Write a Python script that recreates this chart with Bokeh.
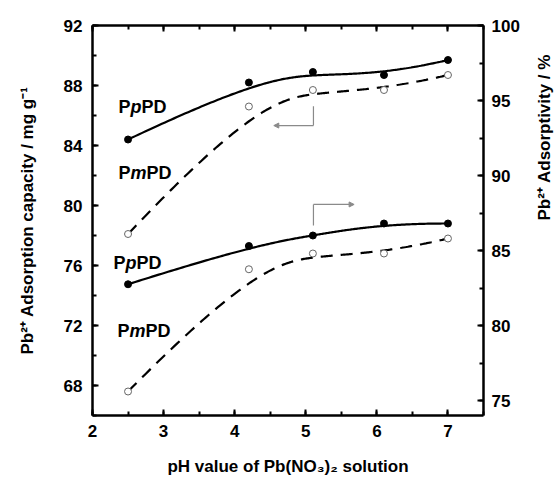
import math
import numpy as np
from bokeh.plotting import figure
from bokeh.layouts import row
from bokeh.core.properties import value
from bokeh.models import Range1d, LinearAxis, SingleIntervalTicker, Label, Arrow, NormalHead
from bokeh.embed import file_html
from bokeh.resources import INLINE

# ---- data ----
ph = [2.5, 4.2, 5.1, 6.1, 7.0]
capacity_ppd = [84.4, 88.2, 88.9, 88.7, 89.7]      # left axis, mg/g
capacity_pmpd = [78.1, 86.6, 87.7, 87.7, 88.7]     # left axis, mg/g
adsorptivity_ppd = [82.75, 85.3, 86.0, 86.8, 86.8]   # right axis, %
adsorptivity_pmpd = [75.6, 83.75, 84.8, 84.8, 85.8]  # right axis, %

x_ticks_interval = 1
left_ticks_interval = 4
right_ticks_interval = 5

FONT = "Liberation Sans"
RIGHT_LABEL = "Pb²⁺ Adsorptivity / %"

# check whether the axis label can be rotated directly
HAS_ORIENT = "axis_label_orientation" in LinearAxis().properties()

W_LEFT, H_TOP, H_BOTTOM = 92, 25, 60
W_RIGHT = 70 if HAS_ORIENT else 45
FW, FH = 391, 390
TOTAL_H = H_TOP + FH + H_BOTTOM


def bspline(xs, ys, n=200, k=3):
    """Clamped cubic B-spline using the data points as control points (smooth curve like Origin's B-spline)."""
    P = np.column_stack([xs, ys]).astype(float)
    m = len(P)
    knots = np.concatenate([np.zeros(k), np.linspace(0, 1, m - k + 1), np.ones(k)])
    t = np.linspace(0, 1 - 1e-9, n)

    def N(i, d):
        if d == 0:
            return np.where((knots[i] <= t) & (t < knots[i + 1]), 1.0, 0.0)
        out = np.zeros_like(t)
        den1 = knots[i + d] - knots[i]
        den2 = knots[i + d + 1] - knots[i + 1]
        if den1 > 0:
            out += (t - knots[i]) / den1 * N(i, d - 1)
        if den2 > 0:
            out += (knots[i + d + 1] - t) / den2 * N(i + 1, d - 1)
        return out

    B = np.array([N(i, k) for i in range(m)])
    C = B.T @ P
    return C[:, 0], C[:, 1]


p = figure(
    x_range=Range1d(2, 7.5),
    y_range=Range1d(66, 92),
    frame_width=FW,
    frame_height=FH,
    min_border_left=W_LEFT,
    min_border_right=W_RIGHT,
    min_border_top=H_TOP,
    min_border_bottom=H_BOTTOM,
    output_backend="svg",
    toolbar_location=None,
)
p.extra_y_ranges = {"right": Range1d(74, 100)}
p.outline_line_color = None
p.xgrid.visible = False
p.ygrid.visible = False
p.background_fill_color = "white"
p.border_fill_color = "white"


def style_axis(ax, interval, label_size="17px"):
    ax.ticker = SingleIntervalTicker(interval=interval, num_minor_ticks=2)
    ax.axis_line_width = 2.5
    ax.axis_line_color = "black"
    ax.major_tick_in = 6
    ax.major_tick_out = 0
    ax.minor_tick_in = 4
    ax.minor_tick_out = 0
    ax.major_tick_line_width = 2
    ax.minor_tick_line_width = 2
    ax.major_tick_line_color = "black"
    ax.minor_tick_line_color = "black"
    ax.major_label_text_font = FONT
    ax.major_label_text_font_style = "bold"
    ax.major_label_text_font_size = label_size
    ax.major_label_text_color = "black"
    ax.axis_label_text_font = FONT
    ax.axis_label_text_font_style = "bold"
    ax.axis_label_text_font_size = "17px"
    ax.axis_label_text_color = "black"


# bottom axis
xa = p.xaxis[0]
style_axis(xa, x_ticks_interval)
xa.axis_label = "pH value of Pb(NO₃)₂ solution"
xa.major_label_standoff = 9
xa.axis_label_standoff = 17

# left axis
ya = p.yaxis[0]
style_axis(ya, left_ticks_interval)
ya.axis_label = "Pb²⁺ Adsorption capacity / mg g⁻¹"
ya.major_label_standoff = 10
ya.axis_label_standoff = 24

# right axis
ra = LinearAxis(y_range_name="right")
style_axis(ra, right_ticks_interval)
ra.major_label_standoff = 8
if HAS_ORIENT:
    ra.axis_label = RIGHT_LABEL
    ra.axis_label_standoff = 22
    ra.axis_label_orientation = math.pi / 2
p.add_layout(ra, "right")

# top axis (ticks only, labels not drawn)
ta = LinearAxis()
style_axis(ta, x_ticks_interval, label_size="1px")
ta.major_label_text_color = None
ta.major_label_standoff = 0
p.add_layout(ta, "above")

# ---- curves ----
bx, by = bspline(ph, capacity_ppd)
p.line(bx, by, line_color="black", line_width=2.2)
bx, by = bspline(ph, capacity_pmpd)
p.line(bx, by, line_color="black", line_width=2.2, line_dash="12 8")
bx, by = bspline(ph, adsorptivity_ppd)
p.line(bx, by, line_color="black", line_width=2.2, y_range_name="right")
bx, by = bspline(ph, adsorptivity_pmpd)
p.line(bx, by, line_color="black", line_width=2.2, line_dash="12 8", y_range_name="right")

# ---- markers ----
p.scatter(ph, capacity_ppd, size=7, marker="circle", fill_color="black", line_color="black")
p.scatter(ph, capacity_pmpd, size=7, marker="circle", fill_color="white", line_color="#666666", line_width=1)
p.scatter(ph, adsorptivity_ppd, size=7, marker="circle", fill_color="black", line_color="black", y_range_name="right")
p.scatter(ph, adsorptivity_pmpd, size=7, marker="circle", fill_color="white", line_color="#666666", line_width=1,
          y_range_name="right")

# ---- arrows pointing to the relevant axis ----
arrow_col = "#8a8a8a"
p.segment(x0=[5.108], y0=[86.62], x1=[5.108], y1=[85.33], line_color=arrow_col, line_width=1.2)
p.add_layout(Arrow(x_start=5.108, y_start=85.33, x_end=4.55, y_end=85.33, line_color=arrow_col, line_width=1.2,
                   end=NormalHead(size=5, fill_color=arrow_col, line_color=arrow_col)))
p.segment(x0=[5.108], y0=[78.67], x1=[5.108], y1=[80.07], line_color=arrow_col, line_width=1.2)
p.add_layout(Arrow(x_start=5.108, y_start=80.07, x_end=5.68, y_end=80.07, line_color=arrow_col, line_width=1.2,
                   end=NormalHead(size=5, fill_color=arrow_col, line_color=arrow_col)))


# ---- series labels with italic middle letter ----
def series_label(x, y, mid):
    size = 18
    w_P = 0.667 * size
    w_mid = (0.611 if mid == "p" else 0.889) * size
    common = dict(x=x, y=y, text_font=FONT, text_font_size=f"{size}px", text_color="black",
                  text_baseline="alphabetic", text_align="left")
    p.add_layout(Label(text="P", x_offset=0, text_font_style="bold", **common))
    p.add_layout(Label(text=mid, x_offset=w_P, text_font_style="bold italic", **common))
    p.add_layout(Label(text="PD", x_offset=w_P + w_mid, text_font_style="bold", **common))


series_label(2.366, 86.57, "p")
series_label(2.366, 82.17, "m")
series_label(2.296, 76.17, "p")
series_label(2.352, 71.64, "m")

if HAS_ORIENT:
    root = p
else:
    # narrow side strip holding the right-hand axis title, rotated to read bottom-to-top
    p_w = W_LEFT + FW + W_RIGHT
    strip_w = 553 - p_w
    q = figure(width=strip_w, height=TOTAL_H, x_range=Range1d(0, strip_w), y_range=Range1d(0, TOTAL_H),
               min_border=0, output_backend="svg", toolbar_location=None)
    q.axis.visible = False
    q.grid.visible = False
    q.outline_line_color = None
    q.text(x=[545 - p_w], y=[TOTAL_H - 232], text=[RIGHT_LABEL], angle=math.pi / 2,
           text_align="center", text_baseline="middle", text_font=value(FONT),
           text_font_style="bold", text_font_size="17px", text_color="black")
    root = row(p, q, spacing=0)

open("out.html", "w").write(file_html(root, INLINE))
